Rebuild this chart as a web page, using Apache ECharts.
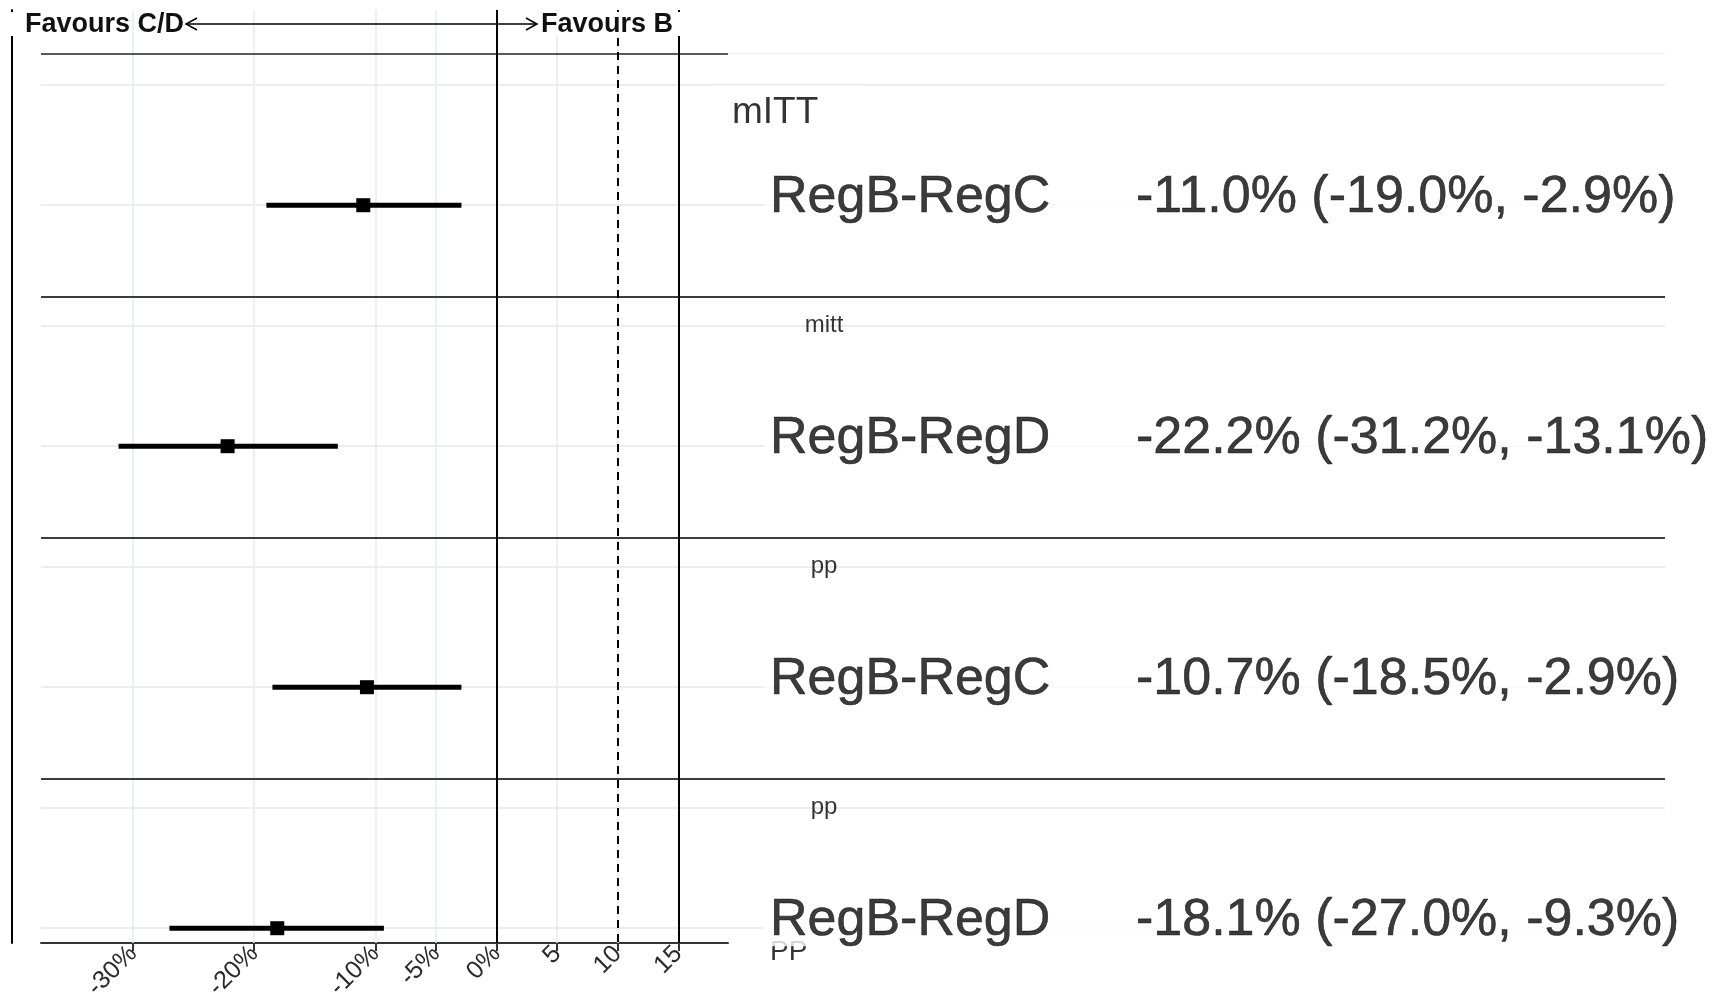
<!DOCTYPE html>
<html>
<head>
<meta charset="utf-8">
<script src="https://cdn.jsdelivr.net/npm/echarts@6/dist/echarts.min.js"></script>
<style>
html,body{margin:0;padding:0;background:#fff;}
#chart{width:1729px;height:997px;}
</style>
</head>
<body>
<div id="chart"></div>
<script>
// ---------------- data ----------------
const comparisons = ["RegB-RegC", "RegB-RegD", "RegB-RegC", "RegB-RegD"];
const estimates   = [-11.0, -22.2, -10.7, -18.1];
const lowerCI     = [-19.0, -31.2, -18.5, -27.0];
const upperCI     = [-2.9, -13.1, -2.9, -9.3];
const panelTags   = ["", "mitt", "pp", "pp"];
const topTag      = "mITT";
const bottomTag   = "PP";
const tickValues  = [-30, -20, -10, -5, 0, 5, 10, 15];
const tickLabels  = ["-30%", "-20%", "-10%", "-5%", "0%", "5", "10", "15"];
const solidRefLines  = [0, 15];
const dashedRefLines = [10];
const leftLabel  = "Favours C/D";
const rightLabel = "Favours B";

// ---------------- layout ----------------
const PLOT_L = 41, PLOT_R = 728, TEXT_R = 1665, TOP = 10, AXIS_Y = 943, BOTTOM = 997;
const ROW_PX = 241;
const Y_MIN = 0.19;
const X_MIN = -37.6, X_MAX = 19.1;
const yAt = px => Y_MIN + (px - TOP) / ROW_PX;
const COL_TAG = 96, COL_LABEL = 36, COL_VALUE_W = 366, COL_TOP = 4;
const FONT = "'Liberation Sans', Arial, sans-serif";

const rows = comparisons.map((_, i) => i + 1);
const fmt = v => v.toFixed(1) + "%";
const estText = rows.map((_, i) => `${fmt(estimates[i])} (${fmt(lowerCI[i])}, ${fmt(upperCI[i])})`);

const separators = rows.slice(0, -1).map(r => r + 0.375);
const topSep = yAt(53);
const lightRows = [];
rows.forEach(r => { lightRows.push(r - 0.5); lightRows.push(r); });

const lightH = { color: '#ececec', width: 2, type: 'solid' };
const sepStyle = { color: '#3c3c3c', width: 2, type: 'solid' };

const bgLines0 = [
  ...tickValues.map(v => ({ xAxis: v, lineStyle: { color: '#e3ebf0', width: 1.5, type: 'solid' } })),
  ...lightRows.map(v => ({ yAxis: v, lineStyle: lightH })),
  ...separators.map(v => ({ yAxis: v, lineStyle: sepStyle })),
  { yAxis: topSep, lineStyle: { color: '#222', width: 1.5, type: 'solid' } }
];
const bgLines1 = [
  ...lightRows.map(v => ({ yAxis: v, lineStyle: lightH })),
  ...separators.map(v => ({ yAxis: v, lineStyle: sepStyle })),
  { yAxis: topSep, lineStyle: { color: '#f0f0f0', width: 1, type: 'solid' } }
];
const refLines = [
  ...solidRefLines.map(v => ({ xAxis: v, lineStyle: { color: '#000', width: 2, type: 'solid' } })),
  ...dashedRefLines.map(v => ({ xAxis: v, lineStyle: { color: '#000', width: 2, type: [8, 6] } }))
];

const chart = echarts.init(document.getElementById('chart'), null, { renderer: 'canvas' });

const option = {
  animation: false,
  backgroundColor: '#fff',
  textStyle: { fontFamily: FONT },
  grid: [
    { left: PLOT_L, top: TOP, width: PLOT_R - PLOT_L, height: AXIS_Y - TOP, containLabel: false, outerBoundsMode: 'none' },
    { left: PLOT_R, top: TOP, width: TEXT_R - PLOT_R, height: BOTTOM - TOP, containLabel: false, outerBoundsMode: 'none' }
  ],
  xAxis: [
    {
      type: 'value', gridIndex: 0, min: X_MIN, max: X_MAX,
      axisLine: { show: true, onZero: false, lineStyle: { color: '#333', width: 2 } },
      axisTick: { show: true, customValues: tickValues, length: 8, lineStyle: { color: '#333', width: 2 } },
      axisLabel: {
        customValues: tickValues,
        formatter: v => tickLabels[tickValues.indexOf(v)],
        rotate: 45, fontSize: 25, color: '#2a2a2a', margin: 7, fontFamily: FONT
      },
      splitLine: { show: false }
    },
    { type: 'value', gridIndex: 1, min: 0, max: TEXT_R - PLOT_R, show: false }
  ],
  yAxis: [
    {
      type: 'value', gridIndex: 0, inverse: true, min: Y_MIN, max: yAt(AXIS_Y),
      offset: PLOT_L - 12,
      axisLine: { show: true, onZero: false, lineStyle: { color: '#000', width: 2 } },
      axisTick: { show: false }, axisLabel: { show: false }, splitLine: { show: false }
    },
    { type: 'value', gridIndex: 1, inverse: true, min: Y_MIN, max: yAt(BOTTOM), show: false }
  ],
  series: [
    {
      type: 'line', xAxisIndex: 0, yAxisIndex: 0, data: [], z: 1, silent: true,
      markLine: { symbol: 'none', silent: true, label: { show: false }, data: bgLines0, animation: false }
    },
    {
      type: 'line', xAxisIndex: 1, yAxisIndex: 1, data: [], z: 1, silent: true,
      markLine: { symbol: 'none', silent: true, label: { show: false }, data: bgLines1, animation: false }
    },
    {
      type: 'line', xAxisIndex: 0, yAxisIndex: 0, data: [], z: 3, silent: true,
      markLine: { symbol: 'none', silent: true, label: { show: false }, data: refLines, animation: false }
    },
    {
      type: 'custom', xAxisIndex: 0, yAxisIndex: 0, z: 5, silent: true,
      data: rows.map((r, i) => [r, estimates[i], lowerCI[i], upperCI[i]]),
      encode: { y: 0, x: [1, 2, 3] },
      renderItem: (params, api) => {
        const y = api.value(0);
        const p0 = api.coord([api.value(2), y]);
        const p1 = api.coord([api.value(3), y]);
        const pe = api.coord([api.value(1), y]);
        const s = 14;
        return {
          type: 'group',
          children: [
            { type: 'line', shape: { x1: p0[0], y1: p0[1], x2: p1[0], y2: p1[1] }, style: { stroke: '#000', lineWidth: 5 } },
            { type: 'rect', shape: { x: pe[0] - s / 2, y: pe[1] - s / 2, width: s, height: s }, style: { fill: '#000' } }
          ]
        };
      }
    },
    // bottom tag (drawn below row labels)
    {
      type: 'scatter', xAxisIndex: 1, yAxisIndex: 1, z: 4, silent: true, symbolSize: 0,
      data: [{ value: [COL_LABEL + 6, yAt(952)], name: bottomTag }],
      label: { show: true, position: [0, 0], align: 'left', verticalAlign: 'middle', formatter: p => p.name, fontSize: 28, color: '#000', fontFamily: FONT }
    },
    // row labels
    {
      type: 'scatter', xAxisIndex: 1, yAxisIndex: 1, z: 6, silent: true, symbolSize: 0,
      data: rows.map((r, i) => ({ value: [COL_LABEL, r], name: comparisons[i], est: estText[i] })),
      label: {
        show: true, position: [0, 0], align: 'left', verticalAlign: 'middle', offset: [0, -8],
        formatter: p => `{a|${p.data.name}}{b|${p.data.est}}`,
        color: '#000',
        backgroundColor: '#fff', padding: [0, 6, 0, 6],
        rich: {
          a: { width: COL_VALUE_W, fontSize: 52, color: '#0a0a0a', fontFamily: FONT, textBorderColor: '#0a0a0a', textBorderWidth: 0.6 },
          b: { fontSize: 52, color: '#0a0a0a', fontFamily: FONT, textBorderColor: '#0a0a0a', textBorderWidth: 0.6 }
        }
      }
    },
    // panel tags
    {
      type: 'scatter', xAxisIndex: 1, yAxisIndex: 1, z: 6, silent: true, symbolSize: 0,
      data: rows.map((r, i) => ({ value: [COL_TAG, r - 0.5], name: panelTags[i] })).filter(d => d.name),
      label: { show: true, position: [0, 0], align: 'center', verticalAlign: 'middle', formatter: p => p.name, fontSize: 24, color: '#000', fontFamily: FONT }
    },
    // top tag
    {
      type: 'scatter', xAxisIndex: 1, yAxisIndex: 1, z: 6, silent: true, symbolSize: 0,
      data: [{ value: [COL_TOP, yAt(113)], name: topTag }],
      label: {
        show: true, position: [0, 0], offset: [-21, 0], align: 'left', verticalAlign: 'middle', formatter: p => p.name,
        fontSize: 37, color: '#000', fontFamily: FONT, backgroundColor: '#fff', padding: [14, 47, 4, 21]
      }
    }
  ],
  graphic: [
    { type: 'rect', z: 100, shape: { x: 3, y: 12, width: 20, height: 24 }, style: { fill: '#fff' } },
    { type: 'rect', z: 100, shape: { x: 540, y: 12, width: 150, height: 24 }, style: { fill: '#fff' } },
    { type: 'text', z: 101, left: 25, top: 11, style: { text: leftLabel, font: `bold 27px ${FONT}`, fill: '#111' } },
    { type: 'text', z: 101, left: 541, top: 11, style: { text: rightLabel, font: `bold 27px ${FONT}`, fill: '#111' } },
    { type: 'line', z: 101, shape: { x1: 186, y1: 24, x2: 537, y2: 24 }, style: { stroke: '#000', lineWidth: 1.5 } },
    { type: 'polyline', z: 101, shape: { points: [[197, 18], [186, 24], [197, 30]] }, style: { stroke: '#000', lineWidth: 1.5, fill: null } },
    { type: 'polyline', z: 101, shape: { points: [[526, 18], [537, 24], [526, 30]] }, style: { stroke: '#000', lineWidth: 1.5, fill: null } }
  ]
};
chart.setOption(option);
</script>
</body>
</html>
